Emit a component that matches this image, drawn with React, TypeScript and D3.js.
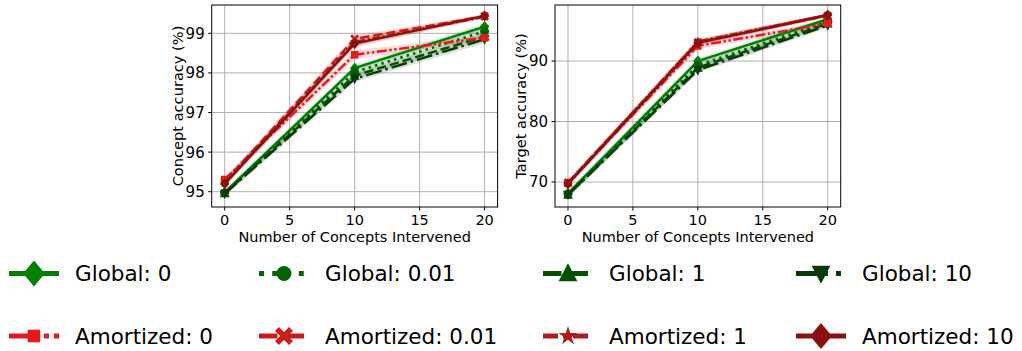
import { useEffect, useRef } from "react"
import * as d3 from "d3"

// x positions (number of concepts intervened)
const interventions = [0, 10, 20]

const seriesLabels = [
  "Global: 0",
  "Global: 0.01",
  "Global: 1",
  "Global: 10",
  "Amortized: 0",
  "Amortized: 0.01",
  "Amortized: 1",
  "Amortized: 10",
]

// concept accuracy (%), one row per series
const conceptMean = [
  [94.98, 98.12, 99.17],
  [94.97, 98.02, 99.05],
  [94.96, 97.93, 98.92],
  [94.95, 97.85, 98.85],
  [95.31, 98.46, 98.89],
  [95.25, 98.86, 99.43],
  [95.22, 98.78, 99.42],
  [95.2, 98.74, 99.44],
]
const conceptStd = [
  [0.06, 0.08, 0.08],
  [0.06, 0.08, 0.1],
  [0.06, 0.08, 0.1],
  [0.06, 0.08, 0.1],
  [0.08, 0.12, 0.06],
  [0.08, 0.1, 0.05],
  [0.08, 0.1, 0.05],
  [0.08, 0.1, 0.05],
]

// target accuracy (%)
const targetMean = [
  [68.1, 90.0, 96.9],
  [68.0, 89.3, 96.5],
  [67.9, 88.9, 96.2],
  [67.9, 88.5, 95.9],
  [69.8, 92.5, 96.2],
  [69.9, 93.1, 97.5],
  [69.8, 93.2, 97.6],
  [69.7, 93.0, 97.6],
]
const targetStd = [
  [0.5, 0.5, 0.4],
  [0.5, 0.5, 0.4],
  [0.5, 0.5, 0.4],
  [0.5, 0.5, 0.4],
  [0.5, 0.6, 0.4],
  [0.5, 0.5, 0.3],
  [0.5, 0.5, 0.3],
  [0.5, 0.5, 0.3],
]

const conceptTicks = [95, 96, 97, 98, 99]
const targetTicks = [70, 80, 90]
const xTicks = [0, 5, 10, 15, 20]

const styles = [
  { color: "#008000", dash: [], marker: "diamond", legendSize: 21 },
  { color: "#006400", dash: [1, 1.65], marker: "circle", legendSize: 15 },
  { color: "#005000", dash: [3.7, 1.6], marker: "triangleUp", legendSize: 17 },
  { color: "#0a3a0a", dash: [6.4, 1.6, 1, 1.6], marker: "triangleDown", legendSize: 17 },
  { color: "#e41a1c", dash: [4, 1, 1, 1, 1, 1], marker: "square", legendSize: 15 },
  { color: "#cc1c1c", dash: [3.7, 1.6], marker: "x", legendSize: 18 },
  { color: "#b01a1a", dash: [3, 1, 1, 1], marker: "star", legendSize: 18 },
  { color: "#8b1010", dash: [], marker: "diamond", legendSize: 21 },
]

const FONT = "DejaVu Sans, sans-serif"

function markerPath(kind: string, s: number): string {
  switch (kind) {
    case "diamond":
      return `M0,${-s * 0.62}L${s * 0.52},0L0,${s * 0.62}L${-s * 0.52},0Z`
    case "circle":
      return d3.symbol(d3.symbolCircle, Math.PI * (s / 2) ** 2)()!
    case "triangleUp":
      return `M0,${-s * 0.6}L${s * 0.55},${s * 0.45}L${-s * 0.55},${s * 0.45}Z`
    case "triangleDown":
      return `M0,${s * 0.6}L${s * 0.55},${-s * 0.45}L${-s * 0.55},${-s * 0.45}Z`
    case "square":
      return `M${-s * 0.42},${-s * 0.42}h${s * 0.84}v${s * 0.84}h${-s * 0.84}Z`
    case "x": {
      const a = s * 0.5
      const t = s * 0.22
      return `M${-a},${-a + t}L${-a + t},${-a}L0,${-t}L${a - t},${-a}L${a},${-a + t}L${t},0L${a},${a - t}L${a - t},${a}L0,${t}L${-a + t},${a}L${-a},${a - t}L${-t},0Z`
    }
    case "star":
      return d3.symbol(d3.symbolStar, s * s * 0.35)()!
  }
  return ""
}

const App = () => {
  const svgRef = useRef<SVGSVGElement>(null)

  useEffect(() => {
    const svg = d3.select(svgRef.current)
    svg.selectAll("*").remove()

    const drawPanel = (
      x0: number,
      x1: number,
      yDomain: [number, number],
      means: number[][],
      stds: number[][],
      yTicks: number[],
      yLabel: string
    ) => {
      const top = 5
      const bottom = 207
      const x = d3.scaleLinear().domain([-1, 21]).range([x0, x1])
      const y = d3.scaleLinear().domain(yDomain).range([bottom, top])
      const g = svg.append("g")

      const clipId = `clip-${Math.round(x0)}`
      g.append("clipPath")
        .attr("id", clipId)
        .append("rect")
        .attr("x", x0)
        .attr("y", top)
        .attr("width", x1 - x0)
        .attr("height", bottom - top)

      // grid
      xTicks.forEach((t) => {
        g.append("line")
          .attr("x1", x(t))
          .attr("x2", x(t))
          .attr("y1", top)
          .attr("y2", bottom)
          .attr("stroke", "#b0b0b0")
          .attr("stroke-width", 1)
      })
      yTicks.forEach((t) => {
        g.append("line")
          .attr("x1", x0)
          .attr("x2", x1)
          .attr("y1", y(t))
          .attr("y2", y(t))
          .attr("stroke", "#b0b0b0")
          .attr("stroke-width", 1)
      })

      const plot = g.append("g").attr("clip-path", `url(#${clipId})`)

      // confidence bands
      means.forEach((m, i) => {
        const area = d3
          .area<number>()
          .x((_, j) => x(interventions[j]))
          .y0((d, j) => y(d - stds[i][j]))
          .y1((d, j) => y(d + stds[i][j]))
        plot.append("path").attr("d", area(m)).attr("fill", styles[i].color).attr("fill-opacity", 0.15)
      })

      // lines and markers
      const lw = 2.5
      means.forEach((m, i) => {
        const line = d3
          .line<number>()
          .x((_, j) => x(interventions[j]))
          .y((d) => y(d))
        plot.append("path")
          .attr("d", line(m))
          .attr("fill", "none")
          .attr("stroke", styles[i].color)
          .attr("stroke-width", lw)
          .attr("stroke-dasharray", styles[i].dash.map((d) => d * lw).join(","))
        m.forEach((v, j) => {
          plot.append("path")
            .attr("d", markerPath(styles[i].marker, 9))
            .attr("transform", `translate(${x(interventions[j])},${y(v)})`)
            .attr("fill", styles[i].color)
        })
      })

      // frame
      g.append("rect")
        .attr("x", x0)
        .attr("y", top)
        .attr("width", x1 - x0)
        .attr("height", bottom - top)
        .attr("fill", "none")
        .attr("stroke", "#000")
        .attr("stroke-width", 1)

      // ticks
      xTicks.forEach((t) => {
        g.append("line")
          .attr("x1", x(t))
          .attr("x2", x(t))
          .attr("y1", bottom)
          .attr("y2", bottom + 3.5)
          .attr("stroke", "#000")
        g.append("text")
          .attr("x", x(t))
          .attr("y", 225)
          .attr("text-anchor", "middle")
          .style("font-family", FONT)
          .style("font-size", "14.5px")
          .text(t)
      })
      yTicks.forEach((t) => {
        g.append("line")
          .attr("x1", x0 - 3.5)
          .attr("x2", x0)
          .attr("y1", y(t))
          .attr("y2", y(t))
          .attr("stroke", "#000")
        g.append("text")
          .attr("x", x0 - 7)
          .attr("y", y(t))
          .attr("dy", "0.36em")
          .attr("text-anchor", "end")
          .style("font-family", FONT)
          .style("font-size", "15px")
          .text(t)
      })

      g.append("text")
        .attr("x", (x0 + x1) / 2)
        .attr("y", 242)
        .attr("text-anchor", "middle")
        .style("font-family", FONT)
        .style("font-size", "14.5px")
        .text("Number of Concepts Intervened")

      g.append("text")
        .attr("transform", `translate(${x0 - 29},${(top + bottom) / 2}) rotate(-90)`)
        .attr("text-anchor", "middle")
        .style("font-family", FONT)
        .style("font-size", "14.6px")
        .text(yLabel)
    }

    drawPanel(211.7, 497.6, [94.614, 99.715], conceptMean, conceptStd, conceptTicks, "Concept accuracy (%)")
    drawPanel(555, 840.7, [65.87, 99.26], targetMean, targetStd, targetTicks, "Target accuracy (%)")

    // legend
    const colStart = [9, 259, 543, 796]
    const rowY = [273.5, 336]
    const legendLw = 5
    seriesLabels.forEach((label, i) => {
      const col = i % 4
      const row = Math.floor(i / 4)
      const lx = colStart[col]
      const ly = rowY[row]
      const lg = svg.append("g")
      lg.append("line")
        .attr("x1", lx)
        .attr("x2", lx + 50)
        .attr("y1", ly)
        .attr("y2", ly)
        .attr("stroke", styles[i].color)
        .attr("stroke-width", legendLw)
        .attr("stroke-dasharray", styles[i].dash.map((d) => d * legendLw).join(","))
      lg.append("path")
        .attr("d", markerPath(styles[i].marker, styles[i].legendSize))
        .attr("transform", `translate(${lx + 25},${ly})`)
        .attr("fill", styles[i].color)
      lg.append("text")
        .attr("x", lx + 66)
        .attr("y", ly + 7.8)
        .style("font-family", FONT)
        .style("font-size", "21.5px")
        .text(label)
    })
  }, [])

  return (
    <svg
      ref={svgRef}
      width={1022}
      height={351}
      style={{ position: "absolute", left: 0, top: 0, background: "#fff" }}
    />
  )
}

export default App
